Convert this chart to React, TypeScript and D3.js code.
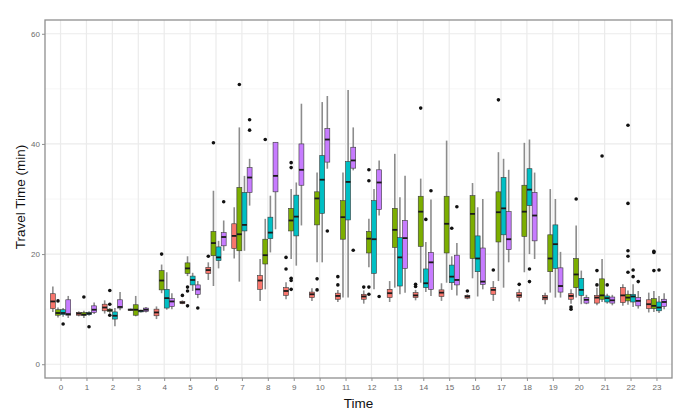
import * as d3 from "d3";
import { useEffect, useRef } from "react";

type Stat = [number, number, number, number, number]; // low whisker, q1, median, q3, high whisker

const hours = ["0", "1", "2", "3", "4", "5", "6", "7", "8", "9", "10", "11", "12", "13", "14", "15", "16", "17", "18", "19", "20", "21", "22", "23"];
const groups = ["A", "B", "C", "D"];
const groupColors = ["#F8766D", "#7CAE00", "#00BFC4", "#C77CFF"];
const yTicks = [0, 20, 40, 60];
const yMinor = [10, 30, 50];

const statsA: Stat[] = [
  [9.5, 10.1, 11.4, 12.8, 14.1], [8.7, 8.9, 9.2, 9.4, 9.6], [9.2, 9.7, 10.3, 10.9, 11.6], [9.7, 9.8, 9.9, 10.0, 10.1],
  [8.2, 8.8, 9.4, 10.0, 10.5], [10.9, 11.0, 11.2, 11.4, 11.6], [15.3, 16.5, 17.1, 17.6, 18.5], [19.2, 21.0, 23.3, 25.5, 28.5],
  [11.5, 13.6, 15.2, 16.1, 19.1], [11.8, 12.5, 13.3, 13.9, 14.9], [11.5, 12.1, 12.7, 13.1, 13.8], [11.3, 11.8, 12.4, 12.9, 13.5],
  [11.0, 11.8, 12.3, 12.7, 13.4], [11.3, 12.1, 12.9, 13.6, 15.1], [11.6, 12.1, 12.5, 13.0, 13.5], [11.5, 12.3, 13.0, 13.5, 14.7],
  [11.8, 12.0, 12.3, 12.5, 12.7], [11.5, 12.7, 13.5, 13.9, 15.1], [11.4, 12.1, 12.5, 13.0, 13.6], [10.9, 11.7, 12.1, 12.5, 13.0],
  [11.0, 11.8, 12.4, 12.8, 13.6], [10.7, 11.1, 12.1, 12.5, 13.9], [10.6, 11.2, 12.5, 13.9, 14.5], [9.4, 10.1, 10.9, 11.7, 13.0],
];
const statsB: Stat[] = [
  [8.5, 8.9, 9.3, 9.9, 10.3], [8.4, 8.9, 9.0, 9.4, 9.7], [9.2, 9.6, 9.8, 10.0, 10.2], [8.7, 8.9, 9.9, 10.8, 12.4],
  [12.9, 13.5, 15.2, 17.0, 18.1], [16.0, 16.5, 17.4, 18.4, 19.6], [14.2, 19.7, 22.0, 24.1, 31.5], [15.0, 20.6, 23.6, 32.1, 43.0],
  [13.6, 18.2, 19.8, 22.7, 26.4], [19.1, 24.2, 26.1, 28.3, 31.8], [18.5, 25.3, 30.1, 31.3, 34.8], [12.1, 22.7, 26.7, 29.7, 34.8],
  [17.6, 20.2, 22.8, 24.1, 26.4], [13.9, 21.2, 24.4, 28.3, 38.2], [14.8, 21.4, 27.7, 30.5, 33.7], [14.8, 20.2, 25.5, 30.5, 40.6],
  [15.6, 19.2, 27.3, 30.6, 32.9], [15.1, 22.2, 27.6, 31.3, 38.5], [16.7, 23.2, 27.7, 32.5, 40.2], [13.0, 16.8, 19.2, 23.5, 31.8],
  [12.1, 13.9, 16.3, 19.2, 25.2], [11.3, 11.8, 12.5, 15.5, 19.1], [10.8, 11.5, 12.1, 12.7, 13.4], [9.5, 10.1, 10.6, 11.9, 13.3],
];
const statsC: Stat[] = [
  [8.6, 9.0, 9.3, 9.9, 10.2], [8.8, 9.0, 9.2, 9.4, 9.6], [6.9, 8.2, 8.8, 9.5, 10.2], [9.4, 9.5, 9.7, 9.8, 9.9],
  [9.9, 10.2, 12.0, 13.6, 16.7], [13.3, 14.4, 15.3, 16.0, 16.6], [17.4, 18.8, 19.4, 21.3, 22.4], [20.6, 24.2, 25.3, 31.2, 34.2],
  [20.3, 22.8, 23.9, 26.7, 30.6], [17.9, 23.3, 26.8, 30.7, 33.0], [18.5, 27.4, 33.5, 37.9, 47.6], [12.1, 26.2, 33.1, 36.8, 49.8],
  [13.6, 16.5, 22.7, 29.7, 31.8], [12.7, 14.2, 19.4, 23.0, 30.3], [13.1, 13.9, 14.7, 17.3, 22.2], [13.5, 14.8, 15.9, 18.0, 19.6],
  [12.3, 16.8, 19.2, 23.3, 28.5], [13.9, 23.5, 28.3, 33.9, 37.3], [20.0, 28.8, 31.7, 35.5, 40.8], [12.1, 17.4, 21.8, 25.3, 30.0],
  [10.9, 12.5, 13.5, 15.6, 17.0], [11.0, 11.3, 12.0, 12.4, 12.8], [10.4, 11.3, 12.3, 12.7, 14.5], [9.3, 9.7, 10.3, 11.3, 12.4],
];
const statsD: Stat[] = [
  [8.4, 8.9, 9.1, 11.7, 12.4], [9.1, 9.4, 9.9, 10.6, 11.2], [9.8, 10.2, 10.4, 11.7, 13.1], [9.4, 9.6, 9.9, 10.2, 10.4],
  [10.0, 10.5, 11.4, 11.9, 12.9], [12.0, 12.7, 13.6, 14.4, 15.1], [20.6, 21.5, 23.1, 23.9, 26.1], [28.8, 31.2, 33.9, 35.7, 37.3],
  [24.5, 31.3, 34.2, 40.3, 40.3], [25.2, 32.5, 35.3, 40.0, 47.3], [35.5, 36.7, 40.8, 42.8, 48.7], [35.2, 35.6, 37.0, 39.4, 43.0],
  [27.0, 28.1, 33.0, 35.3, 37.0], [13.0, 17.4, 22.9, 26.1, 34.2], [12.4, 13.6, 18.5, 20.3, 29.9], [12.5, 14.4, 15.3, 19.8, 22.0],
  [13.6, 14.5, 15.0, 21.1, 30.0], [18.5, 20.8, 22.7, 27.7, 35.3], [19.1, 22.4, 27.0, 31.2, 34.8], [12.1, 13.1, 14.2, 17.5, 20.4],
  [10.9, 11.1, 11.7, 12.1, 12.6], [10.7, 11.1, 11.6, 12.2, 12.6], [10.1, 10.6, 11.5, 12.1, 13.3], [10.0, 10.5, 11.3, 11.8, 12.9],
];

// [hour, value]
const outliersA: [number, number][] = [
  [5, 12.5], [6, 19.6], [9, 19.4], [9, 17.3], [11, 15.9], [11, 14.4], [12, 14.0], [14, 14.5], [14, 14.1],
  [16, 13.3], [17, 17.1], [18, 14.5], [20, 10.4], [20, 10.0], [21, 17.0], [21, 14.4],
];
const outliersB: [number, number][] = [
  [0, 11.5], [1, 12.2], [2, 13.4], [2, 10.9], [2, 8.9], [4, 20.0], [5, 14.0], [5, 13.3], [5, 10.6], [6, 40.2],
  [7, 50.8], [8, 40.8], [9, 36.6], [9, 35.7], [9, 15.6], [9, 15.2], [9, 13.6], [10, 15.5], [10, 13.5],
  [12, 35.3], [12, 33.3], [12, 14.0], [12, 12.7], [14, 46.5], [17, 48.0], [20, 30.0], [21, 37.8],
  [22, 43.4], [22, 29.2], [22, 20.6], [22, 19.6], [22, 16.7], [23, 20.5], [23, 20.3], [23, 17.0],
];
const outliersC: [number, number][] = [
  [0, 7.3], [1, 6.8], [14, 26.3], [15, 24.7], [18, 17.3], [18, 15.0], [21, 14.4], [22, 17.1], [22, 15.9], [23, 17.1],
];
const outliersD: [number, number][] = [
  [5, 10.2], [6, 29.5], [7, 44.4], [7, 42.5], [10, 24.2], [11, 20.7], [12, 12.3], [14, 31.5], [15, 28.6], [22, 15.0],
];

const allStats = [statsA, statsB, statsC, statsD];
const allOutliers = [outliersA, outliersB, outliersC, outliersD];

export default function App() {
  const svgRef = useRef<SVGSVGElement | null>(null);

  useEffect(() => {
    if (!svgRef.current) return;
    const svg = d3.select(svgRef.current);
    svg.selectAll("*").remove();

    const width = 700;
    const height = 420;
    const margin = { top: 20, right: 28, bottom: 42, left: 45 };
    const font = "'Liberation Sans', Arial, sans-serif";

    const x = d3
      .scalePoint<string>()
      .domain(hours)
      .range([margin.left, width - margin.right])
      .padding(0.6);
    const step = x.step();

    const dodge = d3
      .scaleBand<string>()
      .domain(groups)
      .range([-0.4 * step, 0.4 * step])
      .padding(0.04);

    const y = d3
      .scaleLinear()
      .domain([-2.5, 62.5])
      .range([height - margin.bottom, margin.top]);

    svg.append("rect").attr("width", width).attr("height", height).attr("fill", "#fff");

    // Grid lines
    const grid = svg.append("g");
    grid
      .selectAll("line.minor")
      .data(yMinor)
      .join("line")
      .attr("x1", margin.left)
      .attr("x2", width - margin.right)
      .attr("y1", (d) => y(d))
      .attr("y2", (d) => y(d))
      .attr("stroke", "#f4f4f4")
      .attr("stroke-width", 0.8);
    grid
      .selectAll("line.major")
      .data(yTicks)
      .join("line")
      .attr("x1", margin.left)
      .attr("x2", width - margin.right)
      .attr("y1", (d) => y(d))
      .attr("y2", (d) => y(d))
      .attr("stroke", "#ebebeb")
      .attr("stroke-width", 1.2);
    grid
      .selectAll("line.vert")
      .data(hours)
      .join("line")
      .attr("x1", (d) => x(d)!)
      .attr("x2", (d) => x(d)!)
      .attr("y1", margin.top)
      .attr("y2", height - margin.bottom)
      .attr("stroke", "#ebebeb")
      .attr("stroke-width", 1.2);

    // Boxes
    groups.forEach((g, gi) => {
      const stats = allStats[gi];
      const cx = (i: number) => x(hours[i])! + dodge(g)! + dodge.bandwidth() / 2;
      const bw = dodge.bandwidth();
      const layer = svg.append("g");

      layer
        .selectAll("line.whisker")
        .data(stats)
        .join("line")
        .attr("x1", (_, i) => cx(i))
        .attr("x2", (_, i) => cx(i))
        .attr("y1", (d) => y(d[0]))
        .attr("y2", (d) => y(d[4]))
        .attr("stroke", "#8c8c8c")
        .attr("stroke-width", 1.6);

      layer
        .selectAll("rect")
        .data(stats)
        .join("rect")
        .attr("x", (_, i) => cx(i) - bw / 2)
        .attr("y", (d) => y(d[3]))
        .attr("width", bw)
        .attr("height", (d) => Math.max(1, y(d[1]) - y(d[3])))
        .attr("fill", groupColors[gi])
        .attr("stroke", "#3a3a3a")
        .attr("stroke-width", 0.6);

      layer
        .selectAll("line.median")
        .data(stats)
        .join("line")
        .attr("x1", (_, i) => cx(i) - bw / 2)
        .attr("x2", (_, i) => cx(i) + bw / 2)
        .attr("y1", (d) => y(d[2]))
        .attr("y2", (d) => y(d[2]))
        .attr("stroke", "#1a1a1a")
        .attr("stroke-width", 1.8);

      layer
        .selectAll("circle")
        .data(allOutliers[gi])
        .join("circle")
        .attr("cx", (d) => cx(d[0]))
        .attr("cy", (d) => y(d[1]))
        .attr("r", 1.8)
        .attr("fill", "#111");
    });

    // Panel border
    svg
      .append("rect")
      .attr("x", margin.left)
      .attr("y", margin.top)
      .attr("width", width - margin.left - margin.right)
      .attr("height", height - margin.top - margin.bottom)
      .attr("fill", "none")
      .attr("stroke", "#8f8f8f")
      .attr("stroke-width", 1.3);

    // Axes
    const yAxis = svg
      .append("g")
      .attr("transform", `translate(${margin.left},0)`)
      .call(d3.axisLeft(y).tickValues(yTicks).tickSize(3).tickPadding(2));
    const xAxis = svg
      .append("g")
      .attr("transform", `translate(0,${height - margin.bottom})`)
      .call(d3.axisBottom(x).tickSize(3).tickPadding(3));
    [yAxis, xAxis].forEach((a) => {
      a.select(".domain").remove();
      a.selectAll(".tick line").attr("stroke", "#8f8f8f");
      a.selectAll(".tick text")
        .attr("fill", "#6b6b6b")
        .style("font-family", font)
        .style("font-size", "8px");
    });

    // Axis titles
    svg
      .append("text")
      .attr("x", (margin.left + width - margin.right) / 2)
      .attr("y", height - 12)
      .attr("text-anchor", "middle")
      .attr("fill", "#111")
      .style("font-family", font)
      .style("font-size", "13.5px")
      .text("Time");
    svg
      .append("text")
      .attr("transform", "rotate(-90)")
      .attr("x", -(margin.top + height - margin.bottom) / 2 + 2)
      .attr("y", 25)
      .attr("text-anchor", "middle")
      .attr("fill", "#111")
      .style("font-family", font)
      .style("font-size", "13.5px")
      .text("Travel Time (min)");
  }, []);

  return (
    <svg
      ref={svgRef}
      width={700}
      height={420}
      style={{ position: "absolute", left: 0, top: 0 }}
    ></svg>
  );
}
